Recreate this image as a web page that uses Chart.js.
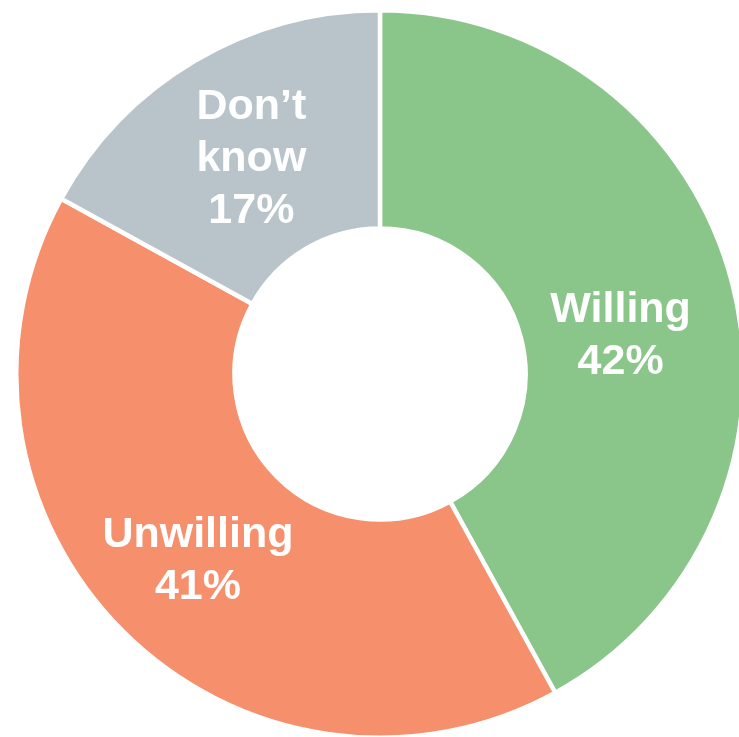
<!DOCTYPE html>
<html>
<head>
<meta charset="utf-8">
<script src="https://cdn.jsdelivr.net/npm/chart.js@4"></script>
<style>
  html, body { margin: 0; padding: 0; background: #ffffff; overflow: hidden; width: 739px; height: 737px; }
  #wrap { position: absolute; left: 14px; top: 8px; width: 732px; height: 732px; }
</style>
</head>
<body>
<div id="wrap"><canvas id="chart" width="732" height="732"></canvas></div>
<script>
// Survey answers and their shares (percent)
const categories = ['Willing', 'Unwilling', 'Don’t know'];
const shares = [42, 41, 17];
const sliceColors = ['#8AC589', '#F58F6C', '#B8C3CA'];

// Per-slice nudge of the label block (px) relative to the middle of the ring
const labelNudge = [[-6, 22], [-2, 3], [1, 1]];

const FONT = 'bold 43px "Liberation Sans", Arial, sans-serif';
const LINE_H = 52;
const CAP = 31;

const sliceLabels = {
  id: 'sliceLabels',
  afterDatasetsDraw(chart) {
    const ctx = chart.ctx;
    const meta = chart.getDatasetMeta(0);
    ctx.save();
    ctx.font = FONT;
    ctx.fillStyle = '#ffffff';
    ctx.textAlign = 'center';
    ctx.textBaseline = 'alphabetic';
    meta.data.forEach((arc, i) => {
      const p = arc.getProps(['x', 'y', 'startAngle', 'endAngle', 'innerRadius', 'outerRadius'], true);
      const mid = (p.startAngle + p.endAngle) / 2;
      const r = (p.innerRadius + p.outerRadius) / 2;
      const cx = p.x + Math.cos(mid) * r + labelNudge[i][0];
      const cy = p.y + Math.sin(mid) * r + labelNudge[i][1];
      const lines = categories[i].split(' ');
      lines.push(shares[i] + '%');
      const n = lines.length;
      const first = cy + CAP / 2 - (n - 1) * LINE_H / 2;
      lines.forEach((t, k) => ctx.fillText(t, cx, first + k * LINE_H));
    });
    ctx.restore();
  }
};

new Chart(document.getElementById('chart'), {
  type: 'doughnut',
  data: {
    labels: categories,
    datasets: [{
      data: shares,
      backgroundColor: sliceColors,
      borderColor: '#ffffff',
      borderWidth: 4.5
    }]
  },
  options: {
    responsive: false,
    animation: false,
    cutout: '40%',
    layout: { padding: 0 },
    plugins: {
      legend: { display: false },
      tooltip: { enabled: false }
    }
  },
  plugins: [sliceLabels]
});
</script>
</body>
</html>
